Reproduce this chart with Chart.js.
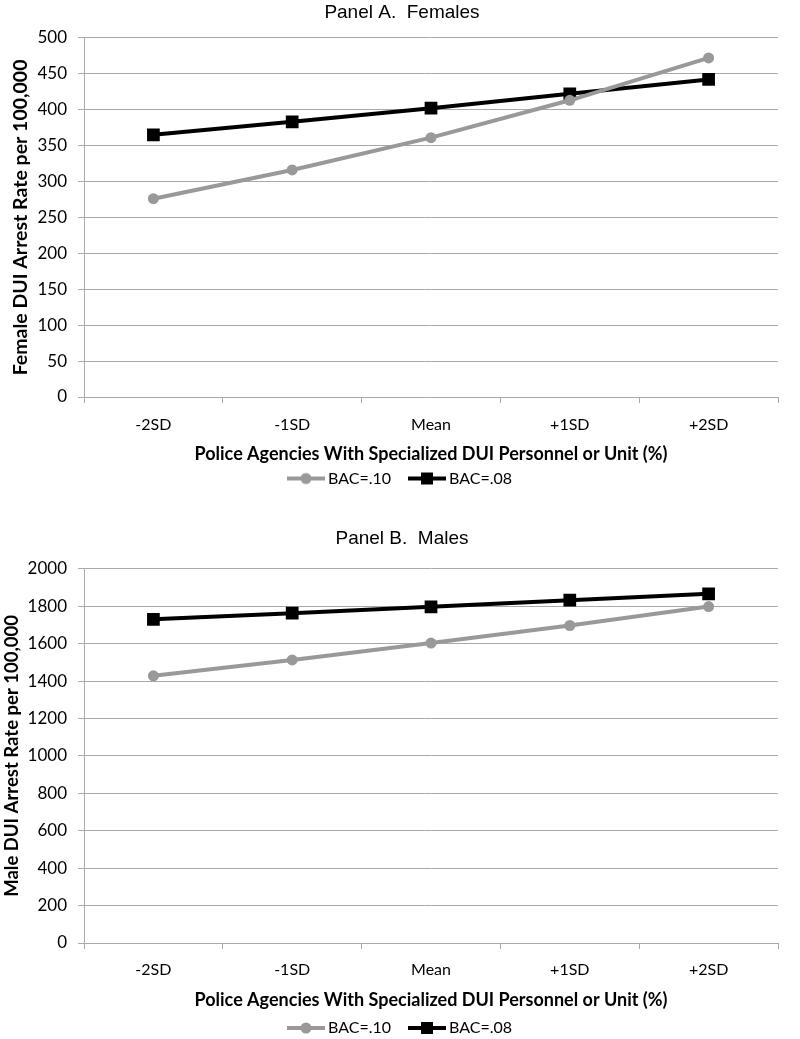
<!DOCTYPE html>
<html>
<head>
<meta charset="utf-8">
<script src="https://cdn.jsdelivr.net/npm/chart.js@4/dist/chart.umd.min.js"></script>
<style>
  html, body { margin: 0; padding: 0; background: #fff; }
  #wrap { position: relative; width: 800px; height: 1039px; overflow: hidden; }
  .panel { position: absolute; left: 0; width: 800px; }
  #panelA { top: 0; height: 510px; }
  #panelB { top: 520px; height: 537px; }
</style>
</head>
<body>
<div id="wrap">
  <div class="panel" id="panelA"><canvas id="chartA"></canvas></div>
  <div class="panel" id="panelB"><canvas id="chartB"></canvas></div>
</div>
<script>
// categories along the x axis
var categories = ['-2SD', '-1SD', 'Mean', '+1SD', '+2SD'];
var seriesNames = ['BAC=.10', 'BAC=.08'];

// Panel A - females
var femaleBac10 = [276, 316, 361, 413, 472];
var femaleBac08 = [365, 383, 402, 422, 442];

// Panel B - males
var maleBac10 = [1428, 1513, 1603, 1697, 1798];
var maleBac08 = [1730, 1763, 1797, 1832, 1866];

var sans = "'Liberation Sans', Arial, sans-serif";
var lato = "Lato, 'Open Sans', sans-serif";
var grayColor = '#999999';
var gridColor = '#a9a9a9';

// small picture of a line with its marker, used in the legend
var makeLegendIcon = function(color, shape) {
  var c = document.createElement('canvas');
  c.width = 40;
  c.height = 14;
  var ctx = c.getContext('2d');
  ctx.strokeStyle = color;
  ctx.fillStyle = color;
  ctx.lineWidth = 4;
  ctx.beginPath();
  ctx.moveTo(1, 7);
  ctx.lineTo(39, 7);
  ctx.stroke();
  if (shape === 'circle') {
    ctx.beginPath();
    ctx.arc(20, 7, 5.5, 0, Math.PI * 2);
    ctx.fill();
  } else {
    ctx.fillRect(14, 1, 12, 12);
  }
  return c;
};

var icons = [makeLegendIcon(grayColor, 'circle'), makeLegendIcon('#000', 'rect')];

var drawPanel = function(canvasId, o) {
  var ctx = document.getElementById(canvasId).getContext('2d');
  return new Chart(ctx, {
    type: 'line',
    data: {
      labels: categories,
      datasets: [
        {
          label: seriesNames[0],
          data: o.bac10,
          borderColor: grayColor,
          backgroundColor: grayColor,
          borderWidth: 4,
          pointStyle: 'circle',
          pointRadius: 5.5,
          pointBorderWidth: 0,
          tension: 0
        },
        {
          label: seriesNames[1],
          data: o.bac08,
          borderColor: '#000',
          backgroundColor: '#000',
          borderWidth: 4,
          pointStyle: 'rect',
          pointRadius: 9,
          pointBorderWidth: 0,
          tension: 0
        }
      ]
    },
    options: {
      responsive: true,
      maintainAspectRatio: false,
      animation: false,
      layout: {
        // left padding keeps the legend centred like the original
        padding: { left: 26, right: 22, top: 0, bottom: o.bottomPad }
      },
      plugins: {
        tooltip: { enabled: false },
        title: {
          display: true,
          text: o.title,
          color: '#000',
          font: { family: sans, size: 19, weight: 'normal' },
          padding: o.titlePad
        },
        legend: {
          position: 'bottom',
          labels: {
            color: '#000',
            font: { family: lato, size: 16 },
            usePointStyle: true,
            pointStyleWidth: 28,
            boxHeight: 14,
            padding: 22,
            generateLabels: function(chart) {
              return chart.data.datasets.map(function(ds, i) {
                return {
                  text: ds.label,
                  pointStyle: icons[i],
                  fillStyle: ds.borderColor,
                  strokeStyle: ds.borderColor,
                  fontColor: '#000',
                  lineWidth: 0,
                  datasetIndex: i
                };
              });
            }
          }
        }
      },
      scales: {
        x: {
          offset: true,
          afterFit: function(scale) { scale.height = o.xHeight; },
          grid: {
            offset: true,
            drawOnChartArea: false,
            drawTicks: true,
            tickLength: 6,
            color: gridColor
          },
          border: { display: true, color: gridColor },
          ticks: {
            color: '#000',
            padding: o.xTickPad,
            font: { family: lato, size: 16 }
          },
          title: {
            display: true,
            text: 'Police Agencies With Specialized DUI Personnel or Unit (%)',
            color: '#000',
            font: { family: lato, size: 18, weight: 'bold' },
            padding: { top: 0, bottom: o.xTitlePad }
          }
        },
        y: {
          min: 0,
          max: o.yMax,
          afterFit: function(scale) { scale.width = 58; },
          grid: {
            color: gridColor,
            tickLength: 6
          },
          border: { display: true, color: gridColor },
          ticks: {
            stepSize: o.yStep,
            color: '#000',
            padding: 11,
            font: { family: lato, size: 17 },
            callback: function(v) { return String(v); }
          },
          title: {
            display: true,
            text: o.yTitle,
            color: '#000',
            font: { family: lato, size: o.yTitleSize, weight: 'bold' },
            padding: { top: o.yTitlePad, bottom: 0 }
          }
        }
      }
    }
  });
};

drawPanel('chartA', {
  title: 'Panel A.  Females',
  yTitle: 'Female DUI Arrest Rate per 100,000',
  bac10: femaleBac10,
  bac08: femaleBac08,
  yMax: 500,
  yStep: 50,
  titlePad: { top: 1, bottom: 14 },
  yTitleSize: 19.5,
  yTitlePad: -17,
  xHeight: 51.5,
  xTickPad: 12,
  xTitlePad: -16,
  bottomPad: 13.5
});

drawPanel('chartB', {
  title: 'Panel B.  Males',
  yTitle: 'Male DUI Arrest Rate per 100,000',
  bac10: maleBac10,
  bac08: maleBac08,
  yMax: 2000,
  yStep: 200,
  titlePad: { top: 7, bottom: 19 },
  yTitleSize: 18.5,
  yTitlePad: -25,
  xHeight: 55,
  xTickPad: 11,
  xTitlePad: -12.5,
  bottomPad: 11
});
</script>
</body>
</html>
